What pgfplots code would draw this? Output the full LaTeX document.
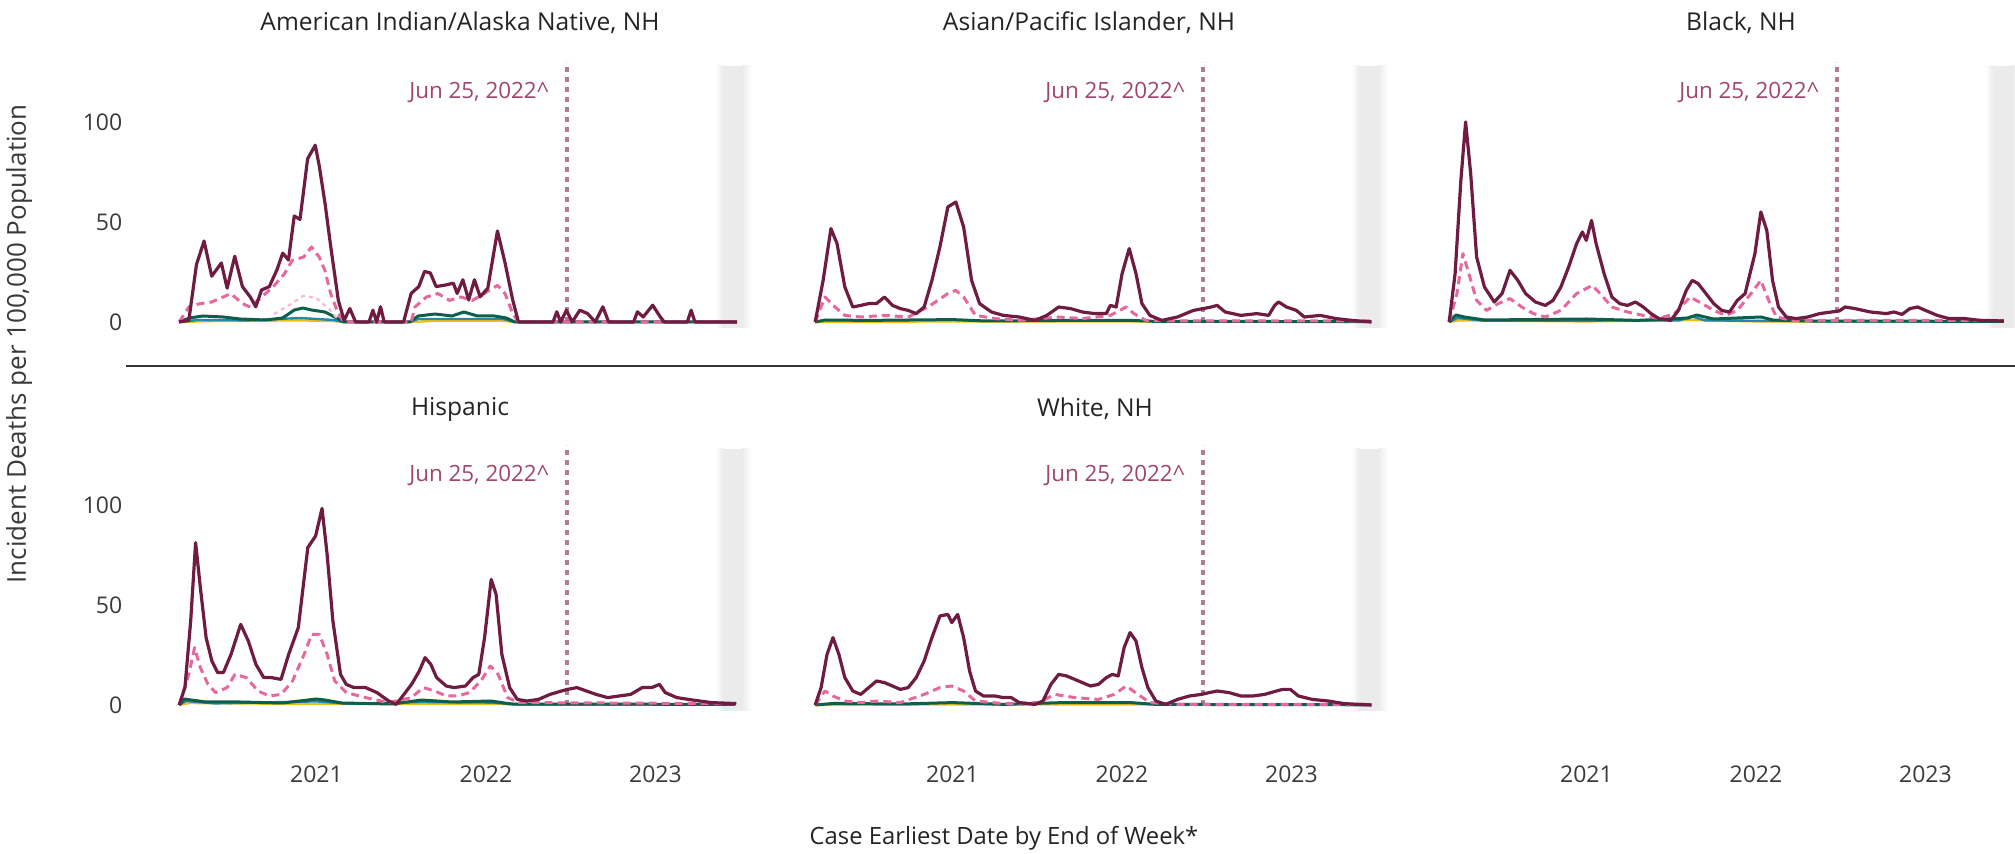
\documentclass[border=0pt]{standalone}
\usepackage{fontspec}
\setmainfont{Open Sans}
\usepackage{pgfplots}
\pgfplotsset{compat=1.18}
\definecolor{cMaroon}{HTML}{701C42}
\definecolor{cPink}{HTML}{E5689F}
\definecolor{cLPink}{HTML}{F5BCD4}
\definecolor{cGreen}{HTML}{0D5E4A}
\definecolor{cTeal}{HTML}{2189AD}
\definecolor{cYellow}{HTML}{EDC20F}
\definecolor{cJun}{HTML}{A0456E}
\definecolor{cDot}{HTML}{B57A98}
\definecolor{cTick}{HTML}{3B3A39}
\definecolor{cTitle}{HTML}{252423}
\pgfplotsset{
  mline/.style={cMaroon, line width=1.6pt, line join=round},
  pline/.style={cPink, line width=1.5pt, dash pattern=on 4pt off 2.5pt, line join=round},
  lpline/.style={cLPink, line width=1.1pt, dash pattern=on 2pt off 2pt},
  gline/.style={cGreen, line width=1.5pt, line join=round},
  tline/.style={cTeal, line width=1.2pt},
  yline/.style={cYellow, line width=1.2pt},
  panel/.style={
    scale only axis, width=294.9pt, height=135pt,
    xmin=2020.12, xmax=2023.6, ymin=-5, ymax=130,
    axis line style={draw=none}, major tick length=0pt,
    xtick={2021,2022,2023}, xticklabels={},
    ytick={0,50,100}, yticklabels={},
    ticklabel style={font=\fontsize{11.5}{13}\selectfont, text=cTick},
    yticklabel style={xshift=-19pt},
    xticklabel style={yshift=-22pt},
    anchor=south west,
  },
}
\newcommand{\extras}{%
  \fill[left color=white, right color=black!8] (axis cs:2023.355,-3) rectangle (axis cs:2023.40,128);
  \fill[black!8] (axis cs:2023.40,-3) rectangle (axis cs:2023.51,128);
  \fill[left color=black!8, right color=white] (axis cs:2023.51,-3) rectangle (axis cs:2023.57,128);
  \draw[cDot, line width=2pt, dash pattern=on 2.5pt off 2.5pt] (axis cs:2022.48,0) -- (axis cs:2022.48,130);
  \node[anchor=east, text=cJun, font=\fontsize{11.2}{13}\selectfont, inner sep=0pt] at (axis cs:2022.48,115) [xshift=-9pt] {Jun 25, 2022\textasciicircum};
}
\begin{document}
\begin{tikzpicture}
\useasboundingbox (0,0) rectangle (1007.5pt,-427pt);

% ---------------- Panel 1: AIAN
\begin{axis}[panel, at={(83.65pt,-166pt)}, yticklabels={0,50,100}]
\extras
\addplot[yline] coordinates {(2020.19,0) (2020.4,0.5) (2020.9,0.8) (2021.1,0.5) (2021.16,0) (2021.55,0) (2021.7,0.6) (2022.1,0.6) (2022.17,0) (2023.48,0)};
\addplot[tline] coordinates {(2020.19,0) (2020.3,1) (2020.6,0.8) (2020.9,2) (2021.1,1) (2021.16,0) (2021.55,0) (2021.6,1.5) (2022.1,1.5) (2022.17,0) (2023.48,0)};
\addplot[gline] coordinates {(2020.19,0) (2020.25,2) (2020.33,3) (2020.45,2.5) (2020.55,1.5) (2020.7,1) (2020.8,2) (2020.87,6) (2020.92,7) (2020.97,6) (2021.05,5) (2021.12,2) (2021.16,0) (2021.55,0) (2021.6,3) (2021.7,4) (2021.8,3) (2021.87,5) (2021.95,3) (2022.05,3) (2022.12,2) (2022.17,0) (2023.48,0)};
\addplot[lpline] coordinates {(2020.75,4) (2020.85,9) (2020.92,13) (2021.0,12) (2021.08,6) (2021.13,1)};
\addplot[pline] coordinates {(2020.19,0) (2020.247,7.5) (2020.314,9.2) (2020.382,10) (2020.450,12.5) (2020.495,14.2) (2020.563,9.2) (2020.609,7.5) (2020.676,12.5) (2020.744,17.5) (2020.812,24.2) (2020.857,30.8) (2020.925,32.5) (2020.971,37.5) (2021.016,32.5) (2021.050,25.8) (2021.084,14.2) (2021.129,4.2) (2021.163,0) (2021.559,0) (2021.581,7.5) (2021.649,12.5) (2021.717,14.2) (2021.785,10.8) (2021.853,12.5) (2021.921,10.8) (2021.989,14.2) (2022.068,18.3) (2022.113,14.2) (2022.158,4.2) (2022.192,0) (2023.48,0)};
\addplot[mline] coordinates {(2020.190,0) (2020.247,0.8) (2020.292,28.7) (2020.337,40.5) (2020.382,22.9) (2020.439,29.5) (2020.473,16.9) (2020.518,32.9) (2020.563,17.7) (2020.609,12.6) (2020.642,7.6) (2020.676,16.0) (2020.722,17.7) (2020.767,26.1) (2020.801,34.4) (2020.835,31.0) (2020.869,53.0) (2020.903,51.3) (2020.948,81.6) (2020.993,88.4) (2021.016,78.3) (2021.050,59.7) (2021.084,37.9) (2021.129,10.9) (2021.163,0.8) (2021.197,6.7) (2021.231,0) (2021.310,0) (2021.333,5.9) (2021.355,0) (2021.378,7.6) (2021.400,0) (2021.514,0) (2021.559,14.3) (2021.604,17.7) (2021.638,25.3) (2021.672,24.5) (2021.706,17.7) (2021.762,18.5) (2021.808,19.4) (2021.830,14.3) (2021.864,21.1) (2021.898,11.0) (2021.932,21.1) (2021.966,12.6) (2022.011,16.9) (2022.068,45.5) (2022.113,29.5) (2022.158,11.0) (2022.192,0) (2022.396,0) (2022.418,5.1) (2022.441,0) (2022.475,5.9) (2022.509,0) (2022.554,5.9) (2022.600,4.2) (2022.645,0) (2022.690,7.6) (2022.724,0) (2022.871,0) (2022.894,5.1) (2022.928,2.5) (2022.984,8.4) (2023.029,2.5) (2023.052,0) (2023.188,0) (2023.211,5.9) (2023.233,0) (2023.482,0)};
\end{axis}

% ---------------- Panel 2: API
\begin{axis}[panel, at={(401.65pt,-166pt)}]
\extras
\addplot[yline] coordinates {(2020.19,0) (2021.0,0.3) (2022.0,0.3) (2023.47,0.1)};
\addplot[gline] coordinates {(2020.19,0) (2020.25,1) (2020.5,0.8) (2021.0,1.2) (2021.2,0.5) (2021.7,0.8) (2022.05,0.8) (2022.2,0.3) (2023.47,0.2)};
\addplot[pline] coordinates {(2020.19,0) (2020.248,12.5) (2020.307,7.5) (2020.365,3.3) (2020.459,2.5) (2020.599,3.3) (2020.739,2.5) (2020.856,7.5) (2020.973,14.2) (2021.020,15.8) (2021.066,12.5) (2021.136,3.3) (2021.253,1.7) (2021.394,0.8) (2021.627,2.5) (2021.767,1.7) (2021.931,3.3) (2022.025,7.5) (2022.071,4.2) (2022.141,0.8) (2022.328,0.5) (2023.47,0.5)};
\addplot[mline] coordinates {(2020.190,0) (2020.237,20.8) (2020.283,46.7) (2020.319,39.2) (2020.365,17.5) (2020.412,7.5) (2020.459,8.3) (2020.506,9.2) (2020.552,9.2) (2020.599,12.5) (2020.646,8.3) (2020.692,6.7) (2020.739,5.8) (2020.786,4.2) (2020.833,7.5) (2020.879,20.8) (2020.926,37.5) (2020.973,57.5) (2021.020,60.0) (2021.066,47.5) (2021.113,20.8) (2021.160,9.2) (2021.230,5.0) (2021.300,3.3) (2021.394,2.5) (2021.487,0.8) (2021.557,3.3) (2021.627,7.5) (2021.697,6.7) (2021.767,5.0) (2021.838,4.2) (2021.908,4.2) (2021.931,8.3) (2021.966,7.5) (2022.001,24.2) (2022.043,36.7) (2022.083,24.2) (2022.118,9.2) (2022.165,3.3) (2022.235,0.8) (2022.328,2.5) (2022.422,5.8) (2022.480,6.7) (2022.527,7.5) (2022.562,8.3) (2022.609,5.0) (2022.702,3.3) (2022.796,4.2) (2022.866,3.3) (2022.901,8.3) (2022.924,10.0) (2022.971,7.5) (2023.029,5.8) (2023.076,2.5) (2023.170,3.3) (2023.263,1.7) (2023.357,0.8) (2023.473,0)};
\end{axis}

% ---------------- Panel 3: Black
\begin{axis}[panel, at={(718.65pt,-166pt)}]
\extras
\addplot[yline] coordinates {(2020.19,0) (2020.25,0.8) (2021.0,0.3) (2021.62,1) (2022.0,0.3) (2023.46,0.1)};
\addplot[tline] coordinates {(2020.19,0) (2020.24,2) (2020.4,0.6) (2021.55,0.8) (2021.62,2.8) (2021.7,0.8) (2022.0,0.6) (2023.46,0.2)};
\addplot[gline] coordinates {(2020.19,0) (2020.23,3.5) (2020.28,2.5) (2020.4,1) (2021.0,1.5) (2021.3,0.8) (2021.6,2) (2021.65,3.5) (2021.75,1.5) (2022.03,2.5) (2022.1,1) (2022.3,0.5) (2023.46,0.3)};
\addplot[pline] coordinates {(2020.19,0) (2020.236,14.2) (2020.271,34.2) (2020.306,24.2) (2020.352,10.8) (2020.410,5.8) (2020.479,9.2) (2020.549,11.7) (2020.618,7.5) (2020.687,4.2) (2020.757,2.5) (2020.849,5.8) (2020.942,14.2) (2021.034,18.3) (2021.081,14.2) (2021.150,7.5) (2021.242,5.0) (2021.335,3.3) (2021.427,1.7) (2021.520,4.2) (2021.612,12.5) (2021.682,9.2) (2021.751,5.8) (2021.821,3.3) (2021.890,5.8) (2021.971,14.2) (2022.029,20.8) (2022.075,10.8) (2022.121,2.5) (2022.214,0.8) (2023.463,0.8)};
\addplot[mline] coordinates {(2020.190,0) (2020.225,24.2) (2020.259,70.8) (2020.287,100) (2020.317,74.2) (2020.352,32.5) (2020.398,17.5) (2020.456,10.0) (2020.502,14.2) (2020.549,25.8) (2020.595,20.8) (2020.641,14.2) (2020.699,10.0) (2020.757,8.3) (2020.803,10.8) (2020.849,17.5) (2020.895,27.5) (2020.942,39.2) (2020.976,45.0) (2020.999,40.8) (2021.030,50.8) (2021.057,39.2) (2021.104,24.2) (2021.150,12.5) (2021.196,9.2) (2021.242,8.3) (2021.289,10.0) (2021.335,7.5) (2021.381,4.2) (2021.427,1.7) (2021.497,0.8) (2021.543,5.8) (2021.589,15.8) (2021.624,20.8) (2021.659,19.2) (2021.705,14.2) (2021.751,9.2) (2021.798,5.8) (2021.844,5.0) (2021.890,10.8) (2021.936,14.2) (2021.994,34.2) (2022.029,55.0) (2022.064,45.8) (2022.098,20.8) (2022.133,7.5) (2022.179,2.5) (2022.237,1.7) (2022.306,2.5) (2022.376,4.2) (2022.445,5.0) (2022.491,5.5) (2022.526,7.5) (2022.584,6.7) (2022.676,5.0) (2022.769,4.2) (2022.815,5.0) (2022.862,3.8) (2022.908,6.7) (2022.954,7.5) (2023.000,5.8) (2023.070,3.3) (2023.139,1.7) (2023.232,1.7) (2023.324,0.8) (2023.463,0.5)};
\end{axis}

% ---------------- Panel 4: Hispanic
\begin{axis}[panel, at={(83.65pt,-357.5pt)}, yticklabels={0,50,100}, xticklabels={2021,2022,2023}]
\extras
\addplot[yline] coordinates {(2020.19,0) (2020.25,1) (2021.0,0.5) (2022.0,0.5) (2023.47,0.1)};
\addplot[tline] coordinates {(2020.19,0) (2020.23,2) (2020.4,0.8) (2021.0,1.8) (2021.2,0.6) (2021.62,1.5) (2022.03,1.2) (2022.2,0.3) (2023.47,0.2)};
\addplot[gline] coordinates {(2020.19,0) (2020.22,3) (2020.26,2.5) (2020.35,1.5) (2020.55,1.5) (2020.8,1) (2021.0,3) (2021.05,2.5) (2021.15,1) (2021.45,0.5) (2021.62,2.5) (2021.8,1.5) (2022.03,2) (2022.15,0.5) (2023.47,0.3)};
\addplot[pline] coordinates {(2020.19,0) (2020.247,15.3) (2020.281,28.7) (2020.315,18.7) (2020.360,10.3) (2020.405,6.2) (2020.473,8.7) (2020.519,15.3) (2020.587,13.7) (2020.655,7.0) (2020.723,4.5) (2020.791,5.3) (2020.859,12.0) (2020.927,25.3) (2020.972,35.3) (2021.017,35.3) (2021.063,25.3) (2021.108,12.0) (2021.176,6.2) (2021.290,3.7) (2021.426,1.2) (2021.561,3.7) (2021.630,8.7) (2021.698,7.0) (2021.766,4.5) (2021.834,4.5) (2021.902,6.2) (2021.970,12.0) (2022.026,19.5) (2022.072,15.3) (2022.128,3.7) (2022.196,1.2) (2023.47,0.7)};
\addplot[mline] coordinates {(2020.190,0) (2020.224,8.7) (2020.258,42.0) (2020.287,81.2) (2020.315,58.7) (2020.349,33.7) (2020.383,22.0) (2020.417,16.2) (2020.451,16.2) (2020.496,25.3) (2020.553,40.3) (2020.598,32.0) (2020.643,20.3) (2020.689,13.7) (2020.734,13.7) (2020.791,12.8) (2020.836,25.3) (2020.893,38.7) (2020.949,78.7) (2020.995,84.5) (2021.033,98.3) (2021.063,75.3) (2021.097,42.0) (2021.142,15.3) (2021.176,10.3) (2021.221,8.7) (2021.290,8.7) (2021.357,6.2) (2021.426,2.0) (2021.471,0.3) (2021.516,5.3) (2021.561,10.3) (2021.607,17.0) (2021.641,23.7) (2021.675,20.3) (2021.709,13.7) (2021.766,9.5) (2021.811,8.7) (2021.879,9.5) (2021.924,13.7) (2021.958,15.3) (2021.992,33.7) (2022.031,62.8) (2022.060,55.3) (2022.094,25.3) (2022.140,8.7) (2022.185,2.8) (2022.242,2.0) (2022.310,2.8) (2022.378,5.3) (2022.446,7.0) (2022.480,7.8) (2022.537,8.7) (2022.593,7.0) (2022.650,5.3) (2022.718,3.7) (2022.786,4.5) (2022.854,5.3) (2022.922,8.7) (2022.978,8.7) (2023.024,10.3) (2023.058,6.2) (2023.126,3.7) (2023.194,2.8) (2023.262,2.0) (2023.330,1.2) (2023.477,0.7)};
\end{axis}

% ---------------- Panel 5: White
\begin{axis}[panel, at={(401.65pt,-357.5pt)}, xticklabels={2021,2022,2023}]
\extras
\addplot[yline] coordinates {(2020.19,0) (2021.0,0.3) (2022.0,0.3) (2023.47,0.1)};
\addplot[gline] coordinates {(2020.19,0) (2020.3,0.8) (2020.7,0.5) (2021.0,1.2) (2021.3,0.3) (2021.65,1.2) (2022.05,1.2) (2022.2,0.3) (2023.47,0.1)};
\addplot[pline] coordinates {(2020.19,0) (2020.248,7.0) (2020.295,4.5) (2020.365,2.0) (2020.459,1.2) (2020.552,2.0) (2020.692,1.2) (2020.833,5.3) (2020.926,8.7) (2020.996,9.5) (2021.066,7.0) (2021.136,2.0) (2021.300,0.7) (2021.510,1.2) (2021.604,5.3) (2021.721,3.7) (2021.861,2.8) (2021.954,5.3) (2022.025,9.5) (2022.095,5.3) (2022.165,1.2) (2022.328,0.3) (2023.473,0.3)};
\addplot[mline] coordinates {(2020.190,0) (2020.225,8.7) (2020.260,25.3) (2020.295,33.7) (2020.330,25.3) (2020.365,13.7) (2020.412,7.0) (2020.459,5.3) (2020.506,8.7) (2020.552,12.0) (2020.599,11.2) (2020.646,9.5) (2020.692,7.8) (2020.739,8.7) (2020.786,13.7) (2020.833,22.0) (2020.879,33.7) (2020.926,44.5) (2020.973,45.3) (2020.996,41.2) (2021.031,45.3) (2021.066,33.7) (2021.101,17.0) (2021.136,7.0) (2021.183,4.5) (2021.253,4.5) (2021.300,3.7) (2021.347,3.7) (2021.394,1.2) (2021.487,0.3) (2021.534,2.0) (2021.581,10.3) (2021.627,15.3) (2021.674,14.5) (2021.744,12.0) (2021.814,9.5) (2021.861,10.3) (2021.908,13.7) (2021.943,15.3) (2021.978,14.5) (2022.013,28.7) (2022.048,36.2) (2022.083,32.0) (2022.118,18.7) (2022.153,8.7) (2022.200,2.0) (2022.258,0.3) (2022.328,2.8) (2022.398,4.5) (2022.469,5.3) (2022.515,6.2) (2022.562,7.0) (2022.632,6.2) (2022.702,4.5) (2022.772,4.5) (2022.842,5.3) (2022.912,7.0) (2022.947,7.8) (2022.994,7.8) (2023.041,4.5) (2023.123,2.8) (2023.216,2.0) (2023.310,0.7) (2023.473,0)};
\end{axis}

% ---------------- Panel 6: empty (x labels only)
\begin{axis}[panel, at={(718.65pt,-357.5pt)}, xticklabels={2021,2022,2023}]
\addplot[draw=none] coordinates {(2021,-4) (2022,-4)};
\end{axis}

% titles and labels
\begin{scope}[every node/.style={text=cTitle, font=\fontsize{12.3}{14}\selectfont}]
\node at (230pt,-11.5pt) {American Indian/Alaska Native, NH};
\node at (544.5pt,-11.5pt) {Asian/Pacific Islander, NH};
\node at (870.5pt,-11.5pt) {Black, NH};
\node at (230pt,-204.5pt) {Hispanic};
\node at (547.5pt,-204.5pt) {White, NH};
\end{scope}
\draw[black!80, line width=0.75pt] (63pt,-183pt) -- (1007.5pt,-183pt);
\node[rotate=90, text=cTick, font=\fontsize{13}{15}\selectfont] at (9.5pt,-172pt) {Incident Deaths per 100,000 Population};
\node[text=cTitle, font=\fontsize{11.9}{14}\selectfont] at (502pt,-419pt) {Case Earliest Date by End of Week*};
\end{tikzpicture}
\end{document}
